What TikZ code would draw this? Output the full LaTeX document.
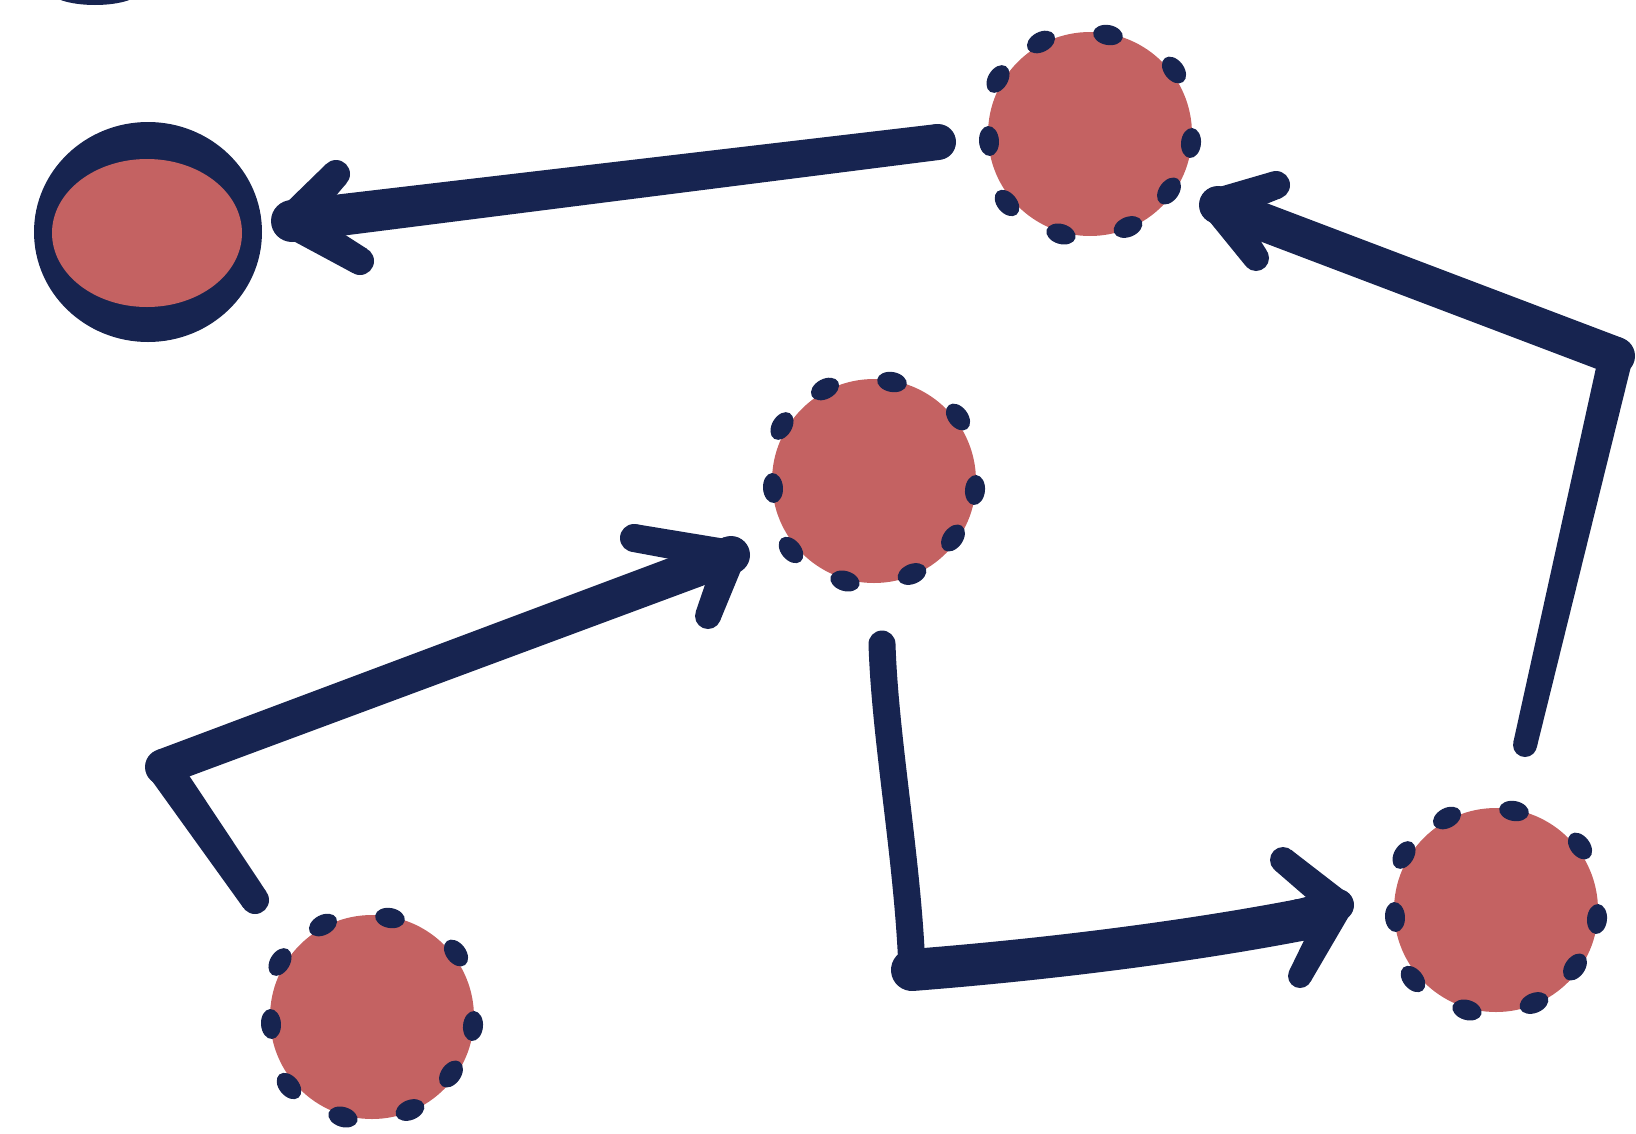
\documentclass[tikz,border=0pt]{standalone}
\usetikzlibrary{calc,shapes.geometric}
\definecolor{ink}{RGB}{23,36,80}
\definecolor{rose}{RGB}{196,98,98}
\tikzset{
  disc/.style={circle, fill=rose, draw=none, minimum size=204pt, inner sep=0pt},
  dotmark/.style={ellipse, fill=ink, draw=none, minimum width=20pt, minimum height=30pt, inner sep=0pt},
  inkfill/.style={fill=ink},
  inkstroke/.style={draw=ink, line cap=round, line join=round},
}
\newcommand\brushseg[4]{%
  \fill[inkfill] ($(#1)!#2!90:(#3)$) -- ($(#3)!#4!-90:(#1)$) -- ($(#3)!#4!90:(#1)$) -- ($(#1)!#2!-90:(#3)$) -- cycle;
  \fill[inkfill] (#1) circle[radius=#2];
  \fill[inkfill] (#3) circle[radius=#4];
}
\begin{document}
\begin{tikzpicture}[x=1pt,y=-1pt]
\useasboundingbox (0,0) rectangle (1636,1133);
\clip (0,0) rectangle (1636,1133);

% partial ring at the top-left edge
\node[ellipse, fill=ink, minimum width=92pt, minimum height=30pt, inner sep=0pt] (X) at (95,-10) {};

% solid-ringed node
\node[ellipse, fill=ink, minimum width=228pt, minimum height=220pt, inner sep=0pt] (S) at (148,232) {};
\node[ellipse, fill=rose, minimum width=190pt, minimum height=148pt, inner sep=0pt] (Sin) at (147,233) {};

% dashed-ring nodes
\node[disc] (T) at (1090,134) {};
\node[disc] (M) at (874,481) {};
\node[disc] (B) at (372,1017) {};
\node[disc] (R) at (1496,910) {};
\foreach \c in {T,M,B,R}{
  \foreach \dx/\dy in {-49/-92, 18/-99, 84/-64, 101/9, 79/57, 38/93, -29/100, -83/69, -101/7, -92/-55}{
    \node[dotmark, rotate={-atan2(\dy,\dx)}] at ($(\c)+(\dx,\dy)$) {};
  }
}

% connector points
\coordinate (a1s) at (938,142);
\coordinate (a1t) at (292,221);
\coordinate (a1u) at (336,174);
\coordinate (a1l) at (360,261);

\coordinate (a2s) at (1525,745);
\coordinate (a2c) at (1616,356);
\coordinate (a2t) at (1218,205);
\coordinate (a2u) at (1276,185);
\coordinate (a2l) at (1256,258);

\coordinate (a3s) at (255,900);
\coordinate (a3c) at (163,767);
\coordinate (a3t) at (731,555);
\coordinate (a3u) at (634,538);
\coordinate (a3l) at (708,616);

\coordinate (a4s) at (882,644);
\coordinate (a4c) at (912,970);
\coordinate (a4k) at (1300,920);
\coordinate (a4t) at (1338,905);
\coordinate (a4u) at (1283,860);
\coordinate (a4l) at (1300,976);

% arrow T -> S
\brushseg{a1s}{18pt}{a1t}{21pt}
\brushseg{a1t}{17pt}{a1u}{14pt}
\brushseg{a1t}{17pt}{a1l}{14pt}

% arrow R -> T
\brushseg{a2s}{12pt}{a2c}{17pt}
\brushseg{a2c}{19pt}{a2t}{19pt}
\brushseg{a2t}{17pt}{a2u}{14pt}
\brushseg{a2t}{17pt}{a2l}{13pt}

% arrow B -> M
\brushseg{a3s}{14pt}{a3c}{17pt}
\brushseg{a3c}{18pt}{a3t}{19pt}
\brushseg{a3t}{15pt}{a3u}{14pt}
\brushseg{a3t}{15pt}{a3l}{13pt}

% arrow M -> R
\draw[inkstroke, line width=27pt] (a4s) .. controls (885,740) and (908,860) .. (a4c);
\draw[inkstroke, line width=42pt] (a4c) .. controls (1040,960) and (1180,943) .. (a4k);
\brushseg{a4k}{21pt}{a4t}{16pt}
\brushseg{a4t}{15pt}{a4u}{13pt}
\brushseg{a4t}{15pt}{a4l}{12pt}
\end{tikzpicture}
\end{document}
